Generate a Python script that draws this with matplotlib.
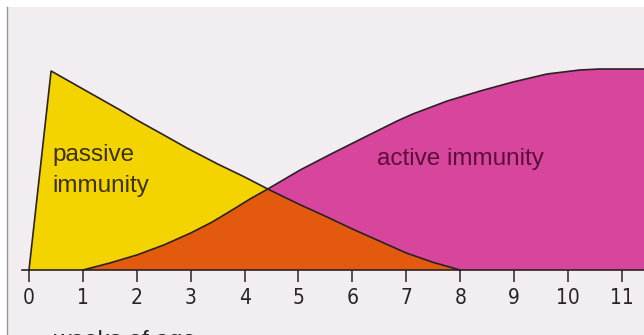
import matplotlib
matplotlib.use("Agg")
import matplotlib.pyplot as plt
from matplotlib.patches import Rectangle, Polygon
from matplotlib.lines import Line2D

# weeks of age / relative level
passive_weeks = [0, 0.41, 1.0, 1.69, 2.0, 2.5, 2.93, 3.5, 4.0, 4.43, 5.0, 5.53, 6.0, 6.75, 7.0, 7.5, 8.0]
passive_level = [0, 99.5, 90.5, 80, 75, 67.5, 61, 53, 46.5, 40.5, 33, 26.5, 20.5, 11.5, 8.5, 3.8, 0]

active_weeks = [1.0, 1.5, 2.0, 2.5, 3.0, 3.4, 3.8, 4.1, 4.43, 5.03, 5.64, 6.27, 6.83, 7.12,
                7.76, 8.37, 8.98, 9.61, 10.22, 10.59, 11.6]
active_level = [0, 3.5, 7.5, 12.5, 18.5, 24, 30.5, 35.5, 40.5, 50, 58.5, 67, 74.5, 78,
                84.5, 89.5, 94, 98, 100, 100.5, 100.5]

week_ticks = list(range(12))

YELLOW = "#f4d400"
ORANGE = "#e35a0e"
PINK = "#d8459c"
EDGE = "#2b2226"
PAGE = "#f1edf0"

fig = plt.figure(figsize=(6.44, 3.35), dpi=100)
fig.patch.set_facecolor("white")
# scanned page area, kept behind the axes
fig.patches.append(Rectangle((7 / 644, 0), 1, 1 - 7 / 335, transform=fig.transFigure,
                             facecolor=PAGE, edgecolor="none", zorder=-2))
fig.lines.append(Line2D([7 / 644, 7 / 644], [0, 1 - 7 / 335], transform=fig.transFigure,
                        color="#9a9496", linewidth=1.0, zorder=-1))

ax = fig.add_axes([0, 0, 1, 1])
ax.patch.set_visible(False)
ax.set_xlim(-0.538, 11.41)
ax.set_ylim(-32.5, 135)

passive_xy = list(zip(passive_weeks, passive_level))
active_xy = list(zip(active_weeks, active_level)) + [(11.6, 0)]

yellow = Polygon(passive_xy, closed=True, facecolor=YELLOW, edgecolor="none", zorder=1)
ax.add_patch(yellow)
ax.add_patch(Polygon(active_xy, closed=True, facecolor=PINK, edgecolor="none", zorder=1))
overlap = Polygon(active_xy, closed=True, facecolor=ORANGE, edgecolor="none", zorder=2)
ax.add_patch(overlap)
overlap.set_clip_path(yellow)

ax.plot(passive_weeks, passive_level, color=EDGE, linewidth=1.2, zorder=3)
ax.plot(active_weeks, active_level, color=EDGE, linewidth=1.2, zorder=3)

for side in ["top", "right", "left"]:
    ax.spines[side].set_visible(False)
ax.spines["bottom"].set_position(("data", 0))
ax.spines["bottom"].set_bounds(-0.13, 11.41)
ax.spines["bottom"].set_color(EDGE)
ax.spines["bottom"].set_linewidth(1.2)
ax.spines["bottom"].set_zorder(4)
ax.set_yticks([])
ax.set_xticks(week_ticks)
ax.set_xticklabels([str(w) for w in week_ticks])
ax.tick_params(axis="x", direction="out", length=8.6, width=1.1, color=EDGE, pad=4,
               labelsize=15, labelcolor="#2a2426")
for lab in ax.get_xticklabels():
    lab.set_family("DejaVu Sans")
    lab.set_fontstretch("condensed")

txt = dict(family="Liberation Sans", fontsize=17.5, va="baseline", ha="left")
ax.text(0.43, 54.5, "passive", color="#3a3012", zorder=5, **txt)
ax.text(0.43, 39, "immunity", color="#3a3012", zorder=5, **txt)
ax.text(6.46, 52.5, "active immunity", color="#5a0f3a", zorder=5, **txt)
ax.text(0.45, -38.5, "weeks of age", color="#2a2426", clip_on=False, **txt)

fig.savefig("out.png", dpi=100)
